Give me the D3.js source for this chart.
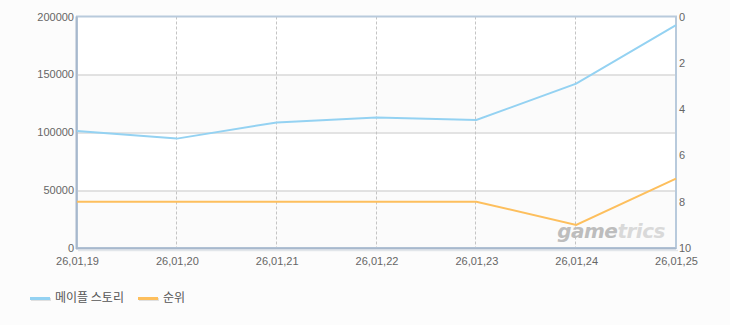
<!DOCTYPE html>
<html>
  <head>
    <meta charset="utf-8">
    <style>
      body {
        margin: 0;
        background: #fcfcfc;
      }
      svg {
        display: block;
        font-family: "DejaVu Sans", "Noto Sans CJK KR", sans-serif;
      }
      .tick text {
        fill: #666;
        font-size: 11px;
      }
      .legend text {
        fill: #555;
        font-size: 12px;
        font-family: "Noto Sans CJK KR", sans-serif;
      }
    </style>
  </head>
  <body>
    <script src="https://d3js.org/d3.v7.min.js"></script>
    <script>
      const dates = ["26,01,19", "26,01,20", "26,01,21", "26,01,22", "26,01,23", "26,01,24", "26,01,25"];
      const players = [101000, 94500, 108500, 112800, 110600, 142000, 192500];
      const ranks = [8, 8, 8, 8, 8, 9, 7];
      const leftTicks = [0, 50000, 100000, 150000, 200000];
      const rightTicks = [0, 2, 4, 6, 8, 10];
      const seriesNames = ["메이플 스토리", "순위"];
      const seriesColors = ["#94d2f2", "#fdbf5d"];

      const width = 730, height = 325,
          margin = {left: 77, right: 54, top: 16.5, bottom: 77};
      const innerW = width - margin.left - margin.right,
          innerH = height - margin.top - margin.bottom;

      const svg = d3.select("body").append("svg")
          .attr("width", width)
          .attr("height", height);

      const g = svg.append("g")
          .attr("transform", `translate(${margin.left},${margin.top})`);

      const x = d3.scalePoint()
          .domain(dates)
          .range([0, innerW]);

      const y = d3.scaleLinear()
          .domain([0, 200000])
          .range([innerH, 0]);

      const yRank = d3.scaleLinear()
          .domain([0, 10])
          .range([0, innerH]);

      // alternating bands
      g.selectAll(".band")
          .data(d3.pairs(leftTicks))
        .join("rect")
          .attr("x", 0)
          .attr("width", innerW)
          .attr("y", d => y(d[1]))
          .attr("height", d => y(d[0]) - y(d[1]))
          .attr("fill", (d, i) => i % 2 ? "#ffffff" : "#fbfbfb");

      // horizontal grid
      g.selectAll(".hgrid")
          .data(leftTicks.slice(1, -1))
        .join("line")
          .attr("x1", 0)
          .attr("x2", innerW)
          .attr("y1", d => Math.round(y(d)) + 0.5)
          .attr("y2", d => Math.round(y(d)) + 0.5)
          .attr("stroke", "#c8c8c8");

      // vertical dashed grid
      g.selectAll(".vgrid")
          .data(dates.slice(1, -1))
        .join("line")
          .attr("x1", d => Math.round(x(d)) - 0.5)
          .attr("x2", d => Math.round(x(d)) - 0.5)
          .attr("y1", 0)
          .attr("y2", innerH)
          .attr("stroke", "#c4c4c4")
          .attr("stroke-dasharray", "3,2");

      // frame
      g.append("rect")
          .attr("x", 0)
          .attr("y", 0)
          .attr("width", innerW)
          .attr("height", innerH)
          .attr("fill", "none")
          .attr("stroke", "#b8cadc")
          .attr("stroke-width", 2);
      g.append("line")
          .attr("x1", -0.5).attr("x2", -0.5)
          .attr("y1", 0).attr("y2", innerH + 1)
          .attr("stroke", "#a8b8cc").attr("stroke-width", 2);
      g.append("line")
          .attr("x1", -1).attr("x2", innerW)
          .attr("y1", innerH + 0.5).attr("y2", innerH + 0.5)
          .attr("stroke", "#a8b8cc").attr("stroke-width", 2);
      g.append("line")
          .attr("x1", 1).attr("x2", innerW + 2)
          .attr("y1", innerH + 2.5).attr("y2", innerH + 2.5)
          .attr("stroke", "#e2e6ea").attr("stroke-width", 1.5);

      // watermark
      const mark = g.append("text")
          .attr("x", x(dates[5]) - 19)
          .attr("y", innerH - 10)
          .attr("font-size", 20)
          .attr("font-weight", "bold")
          .attr("font-style", "italic")
          .attr("font-family", "DejaVu Sans")
          .attr("letter-spacing", -0.5);
      mark.append("tspan").attr("fill", "#bdbdbd").text("game");
      mark.append("tspan").attr("fill", "#d9d9d9").text("trics");

      // axes
      const leftAxis = g.append("g")
          .call(d3.axisLeft(y).tickValues(leftTicks).tickSize(0).tickPadding(3).tickFormat(d3.format("d")));
      const rightAxis = g.append("g")
          .attr("transform", `translate(${innerW},0)`)
          .call(d3.axisRight(yRank).tickValues(rightTicks).tickSize(0).tickPadding(3));
      const bottomAxis = g.append("g")
          .attr("transform", `translate(0,${innerH})`)
          .call(d3.axisBottom(x).tickSize(0).tickPadding(9));
      [leftAxis, rightAxis, bottomAxis].forEach(a => a.select(".domain").remove());

      // lines
      const linePlayers = d3.line()
          .x(d => x(d.date))
          .y(d => y(d.value));
      const lineRank = d3.line()
          .x(d => x(d.date))
          .y(d => yRank(d.value));

      g.append("path")
          .datum(dates.map((d, i) => ({date: d, value: ranks[i]})))
          .attr("fill", "none")
          .attr("stroke", seriesColors[1])
          .attr("stroke-width", 2)
          .attr("d", lineRank);

      g.append("path")
          .datum(dates.map((d, i) => ({date: d, value: players[i]})))
          .attr("fill", "none")
          .attr("stroke", seriesColors[0])
          .attr("stroke-width", 2)
          .attr("d", linePlayers);

      // legend
      const legend = svg.append("g")
          .attr("class", "legend")
          .attr("transform", "translate(30,298)");
      const item = legend.selectAll("g")
          .data(seriesNames)
        .join("g")
          .attr("transform", (d, i) => `translate(${i * 108},0)`);
      item.append("rect")
          .attr("x", 1).attr("y", 0)
          .attr("width", 20).attr("height", 3)
          .attr("fill", "#e0e0e0");
      item.append("rect")
          .attr("x", 0).attr("y", -1)
          .attr("width", 20).attr("height", 3)
          .attr("fill", (d, i) => seriesColors[i]);
      item.append("text")
          .attr("x", 25)
          .attr("y", 4)
          .text(d => d);
    </script>
  </body>
</html>
